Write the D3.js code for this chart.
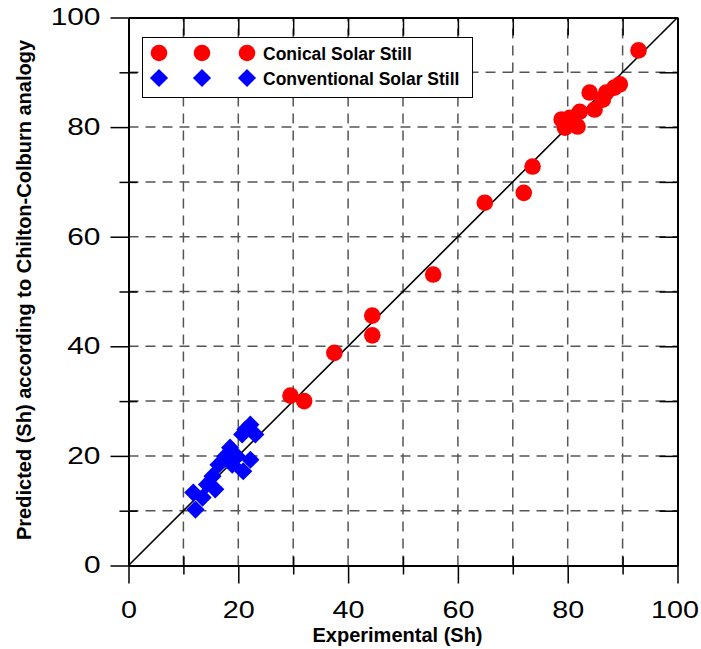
<!DOCTYPE html>
<html>
<head>
<meta charset="utf-8">
<script src="https://cdn.jsdelivr.net/npm/d3@7"></script>
<style>
  body { margin: 0; background: #fff; }
  text { font-family: "Liberation Sans", Arial, sans-serif; }
</style>
</head>
<body>
<svg id="chart" width="701" height="649"></svg>
<script>
// data
var conicalX = [29.5, 32, 37.5, 44.4, 44.4, 55.5, 64.9, 72, 73.6, 78.9, 79.5, 80.4, 81.8, 82.2, 84, 84.9, 86.4, 87, 88.5, 89.5, 92.9];
var conicalY = [31, 30, 38.8, 45.6, 42, 53.1, 66.2, 68, 72.8, 81.4, 79.9, 81.7, 80.1, 82.8, 86.3, 83.2, 85, 86.3, 87.2, 87.8, 94];
var convX = [22.2, 21.3, 23.1, 20.7, 18.5, 17.6, 19.8, 22.2, 18.9, 20.9, 16.4, 15.3, 14.3, 15.8, 11.8, 13.5, 12.2];
var convY = [25.7, 24.8, 23.9, 23.9, 21.5, 19.9, 19.9, 19.3, 18.4, 17.2, 18.4, 16.3, 14.8, 13.9, 13.3, 12.4, 10.2];
var majorTicks = [0, 20, 40, 60, 80, 100];
var minorTicks = [10, 30, 50, 70, 90];
var gridTicks = [10, 20, 30, 40, 50, 60, 70, 80, 90];
var allTicks = [0, 10, 20, 30, 40, 50, 60, 70, 80, 90, 100];
var seriesNames = ['Conical Solar Still', 'Conventional Solar Still'];

var svg = d3.select('#chart');

var x = d3.scaleLinear().domain([0, 100]).range([128.5, 677.5]);
var y = d3.scaleLinear().domain([0, 100]).range([565.5, 17.5]);

// dashed grid
svg.append('g').selectAll('line.gx')
    .data(gridTicks).enter().append('line')
    .attr('x1', function(d) { return x(d); }).attr('x2', function(d) { return x(d); })
    .attr('y1', y(0)).attr('y2', y(100))
    .attr('stroke', '#555').attr('stroke-width', 1.5).attr('stroke-dasharray', '10,7');
svg.append('g').selectAll('line.gy')
    .data(gridTicks).enter().append('line')
    .attr('y1', function(d) { return y(d); }).attr('y2', function(d) { return y(d); })
    .attr('x1', x(0)).attr('x2', x(100))
    .attr('stroke', '#555').attr('stroke-width', 1.5).attr('stroke-dasharray', '10,7');

// 1:1 line
svg.append('line')
    .attr('x1', x(0)).attr('y1', y(0)).attr('x2', x(100)).attr('y2', y(100))
    .attr('stroke', '#000').attr('stroke-width', 1.6);

function styleAxis(g) {
    g.selectAll('path').attr('stroke', '#000').attr('stroke-width', 2);
    g.selectAll('line').attr('stroke', '#000').attr('stroke-width', 1.5);
    g.selectAll('text').attr('font-size', 23).attr('fill', '#000');
}

// bottom axis
var bottom = svg.append('g').attr('transform', 'translate(0,' + y(0) + ')')
    .call(d3.axisBottom(x).tickValues(majorTicks).tickSize(18).tickSizeOuter(0).tickPadding(0));
styleAxis(bottom);
bottom.selectAll('text').attr('y', null).attr('dy', null)
    .attr('transform', function(d) { return 'translate(' + (d === 100 ? -3 : 0) + ',52) scale(1.25,1)'; });
svg.append('g').attr('transform', 'translate(0,' + y(0) + ')')
    .call(d3.axisBottom(x).tickValues(minorTicks).tickSize(9).tickFormat('').tickSizeOuter(0))
    .call(styleAxis);
svg.append('g').attr('transform', 'translate(0,' + y(0) + ')')
    .call(d3.axisTop(x).tickValues(minorTicks).tickSize(9).tickFormat('').tickSizeOuter(0))
    .call(styleAxis);

// left axis
var left = svg.append('g').attr('transform', 'translate(' + x(0) + ',0)')
    .call(d3.axisLeft(y).tickValues(majorTicks).tickSize(18).tickSizeOuter(0).tickPadding(10));
styleAxis(left);
left.selectAll('text').each(function() {
    var t = d3.select(this);
    var xx = +t.attr('x');
    t.attr('x', null).attr('transform', 'translate(' + xx + ',0) scale(1.3,1)');
});
svg.append('g').attr('transform', 'translate(' + x(0) + ',0)')
    .call(d3.axisLeft(y).tickValues(minorTicks).tickSize(9).tickFormat('').tickSizeOuter(0))
    .call(styleAxis);
svg.append('g').attr('transform', 'translate(' + x(0) + ',0)')
    .call(d3.axisRight(y).tickValues(minorTicks).tickSize(9).tickFormat('').tickSizeOuter(0))
    .call(styleAxis);

// top and right axes, ticks inward
svg.append('g').attr('transform', 'translate(0,' + y(100) + ')')
    .call(d3.axisBottom(x).tickValues(allTicks).tickSize(18).tickFormat('').tickSizeOuter(0))
    .call(styleAxis);
svg.append('g').attr('transform', 'translate(' + x(100) + ',0)')
    .call(d3.axisLeft(y).tickValues(allTicks).tickSize(18).tickFormat('').tickSizeOuter(0))
    .call(styleAxis);

// points
var circle = d3.symbol().type(d3.symbolCircle).size(216);
var diamond = d3.symbol().type(d3.symbolSquare).size(165);

svg.append('g').selectAll('path')
    .data(conicalX).enter().append('path')
    .attr('d', circle)
    .attr('transform', function(d, i) { return 'translate(' + x(d) + ',' + y(conicalY[i]) + ')'; })
    .attr('fill', '#ff0000');

svg.append('g').selectAll('path')
    .data(convX).enter().append('path')
    .attr('d', diamond)
    .attr('transform', function(d, i) { return 'translate(' + x(d) + ',' + y(convY[i]) + ') rotate(45)'; })
    .attr('fill', '#0000ff');

// legend
var legend = svg.append('g');
legend.append('rect')
    .attr('x', 142.5).attr('y', 37.5).attr('width', 330).attr('height', 60)
    .attr('fill', '#fff').attr('stroke', '#000').attr('stroke-width', 1);
var legendMarkX = [159, 202, 247];
var rows = legend.selectAll('g.row').data(seriesNames).enter().append('g')
    .attr('transform', function(d, i) { return 'translate(0,' + (53 + i * 25) + ')'; });
rows.each(function(d, i) {
    var r = d3.select(this);
    legendMarkX.forEach(function(mx) {
        r.append('path')
            .attr('d', i === 0 ? circle : diamond)
            .attr('transform', 'translate(' + mx + ',0)' + (i === 0 ? '' : ' rotate(45)'))
            .attr('fill', i === 0 ? '#ff0000' : '#0000ff');
    });
    r.append('text')
        .attr('x', 263).attr('y', 6.5)
        .attr('font-size', 17.5).attr('font-weight', 'bold')
        .text(d);
});

// axis titles
svg.append('text')
    .attr('x', 397.5).attr('y', 642)
    .attr('text-anchor', 'middle').attr('font-size', 20).attr('font-weight', 'bold')
    .text('Experimental (Sh)');
svg.append('text')
    .attr('transform', 'translate(31,' + 290 + ') rotate(-90)')
    .attr('text-anchor', 'middle').attr('font-size', 20).attr('font-weight', 'bold')
    .text('Predicted (Sh) according to Chilton-Colburn analogy');
</script>
</body>
</html>
